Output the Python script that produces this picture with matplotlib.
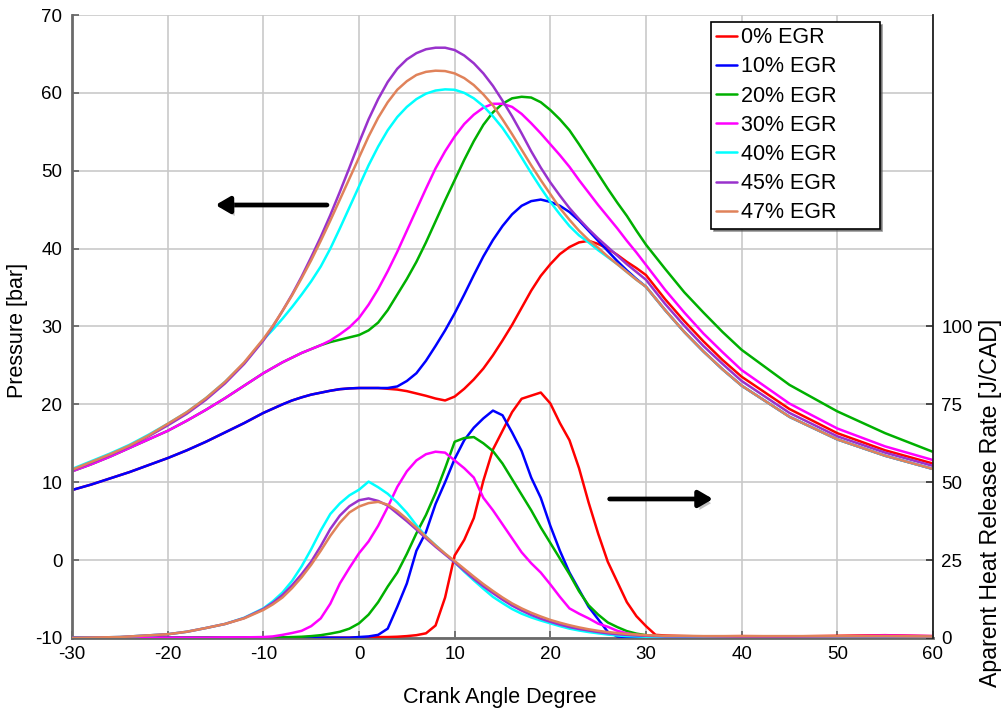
import matplotlib
matplotlib.use("Agg")
import matplotlib.pyplot as plt
from matplotlib import patheffects as pe

plt.rcParams['font.family'] = ['Liberation Sans', 'DejaVu Sans']
plt.rcParams['axes.unicode_minus'] = False

# ---------------- data ----------------
labels = ["0% EGR", "10% EGR", "20% EGR", "30% EGR", "40% EGR", "45% EGR", "47% EGR"]
colors = ["#ff0000", "#0000ff", "#00b000", "#ff00ff", "#00ffff", "#9932cc", "#e0825a"]

# crank angle grid for cylinder pressure [deg]
p_angle = [-30, -28, -26, -24, -22, -20, -18, -16, -14, -12,
           -10, -9, -8, -7, -6, -5, -4, -3, -2, -1, 0,
           1, 2, 3, 4, 5, 6, 7, 8, 9, 10, 11, 12, 13, 14, 15,
           16, 17, 18, 19, 20, 21, 22, 23, 24, 25, 26, 27, 28, 29, 30,
           32, 34, 36, 38, 40, 45, 50, 55, 60]

# cylinder pressure [bar]
p_egr0 = [9.0, 9.7, 10.5, 11.3, 12.2, 13.1, 14.1, 15.2, 16.4, 17.6,
          18.9, 19.45, 20.0, 20.5, 20.9, 21.25, 21.5, 21.75, 21.95, 22.05, 22.1,
          22.1, 22.1, 22.0, 21.9, 21.7, 21.4, 21.1, 20.75, 20.5, 21.0, 22.0, 23.2, 24.6, 26.3, 28.2,
          30.2, 32.4, 34.6, 36.5, 38.0, 39.3, 40.2, 40.8, 41.0, 40.6, 40.0, 39.2, 38.3, 37.5, 36.6,
          33.5, 30.7, 28.1, 25.7, 23.55, 19.4, 16.3, 14.1, 12.4]
p_egr10 = [9.0, 9.7, 10.5, 11.3, 12.2, 13.1, 14.1, 15.2, 16.4, 17.6,
           18.9, 19.45, 20.0, 20.5, 20.9, 21.25, 21.5, 21.75, 21.95, 22.05, 22.1,
           22.1, 22.1, 22.1, 22.3, 23.0, 24.0, 25.6, 27.5, 29.5, 31.7, 34.1, 36.6, 39.0, 41.1, 42.9,
           44.4, 45.5, 46.1, 46.3, 46.0, 45.5, 44.7, 43.6, 42.3, 41.0, 39.7, 38.4, 37.2, 36.1, 35.1,
           32.1, 29.3, 26.8, 24.5, 22.4, 18.4, 15.5, 13.4, 11.7]
p_egr20 = [11.4, 12.3, 13.3, 14.4, 15.5, 16.6, 17.9, 19.3, 20.8, 22.4,
           24.0, 24.7, 25.4, 26.0, 26.6, 27.1, 27.6, 28.0, 28.3, 28.6, 28.9,
           29.5, 30.5, 32.1, 34.1, 36.1, 38.3, 40.8, 43.5, 46.2, 48.8, 51.4, 53.8, 55.9, 57.5, 58.6,
           59.3, 59.5, 59.4, 58.8, 57.8, 56.6, 55.2, 53.4, 51.5, 49.6, 47.7, 45.9, 44.2, 42.3, 40.5,
           37.4, 34.4, 31.8, 29.3, 27.0, 22.5, 19.1, 16.3, 13.9]
p_egr30 = [11.4, 12.3, 13.3, 14.4, 15.5, 16.6, 17.9, 19.3, 20.8, 22.4,
           24.0, 24.7, 25.4, 26.0, 26.6, 27.1, 27.6, 28.2, 29.0, 29.9, 31.1,
           32.8, 34.8, 37.1, 39.6, 42.3, 45.0, 47.7, 50.3, 52.5, 54.4, 56.0, 57.2, 58.1, 58.6, 58.6,
           58.2, 57.3, 56.1, 54.8, 53.4, 52.0, 50.5, 48.8, 47.2, 45.6, 44.1, 42.6, 41.0, 39.5, 37.9,
           34.7, 31.8, 29.1, 26.7, 24.4, 20.1, 16.9, 14.6, 12.85]
p_egr40 = [11.7, 12.7, 13.7, 14.8, 16.1, 17.5, 19.0, 20.8, 22.9, 25.3,
           28.3, 29.6, 31.0, 32.5, 34.1, 35.8, 37.7, 40.0, 42.6, 45.3, 48.0,
           50.7, 53.1, 55.2, 56.9, 58.2, 59.2, 59.9, 60.3, 60.45, 60.4, 60.0, 59.3, 58.3, 57.0, 55.5,
           53.7, 51.7, 49.7, 47.8, 46.0, 44.4, 42.9, 41.7, 40.8, 39.8, 38.9, 38.0, 37.0, 36.0, 35.1,
           32.1, 29.3, 26.8, 24.5, 22.4, 18.4, 15.5, 13.4, 11.7]
p_egr45 = [11.5, 12.5, 13.5, 14.6, 15.9, 17.3, 18.8, 20.6, 22.7, 25.2,
           28.2, 30.0, 32.0, 34.1, 36.4, 38.9, 41.5, 44.3, 47.3, 50.4, 53.6,
           56.6, 59.2, 61.4, 63.1, 64.3, 65.1, 65.6, 65.8, 65.8, 65.5, 64.8, 63.8, 62.5, 60.9, 59.0,
           57.0, 54.8, 52.5, 50.4, 48.5, 46.8, 45.2, 43.8, 42.5, 41.3, 40.2, 39.1, 38.0, 37.0, 36.0,
           32.9, 30.1, 27.5, 25.2, 23.0, 18.9, 15.9, 13.8, 12.1]
p_egr47 = [11.6, 12.6, 13.6, 14.7, 16.0, 17.5, 19.0, 20.8, 22.9, 25.4,
           28.4, 30.1, 32.0, 34.0, 36.2, 38.5, 41.0, 43.6, 46.3, 49.0, 51.7,
           54.4, 56.8, 58.8, 60.4, 61.5, 62.3, 62.7, 62.85, 62.8, 62.5, 61.9, 61.0, 59.8, 58.4, 56.6,
           54.7, 52.7, 50.7, 48.8, 47.0, 45.2, 43.7, 42.3, 41.1, 40.1, 39.0, 38.0, 37.0, 36.0, 35.1,
           32.1, 29.3, 26.8, 24.5, 22.4, 18.4, 15.5, 13.4, 11.7]

# crank angle grid for apparent heat release rate [deg]
h_angle = [-30, -25, -20, -18, -16, -14, -12,
           -10, -9, -8, -7, -6, -5, -4, -3, -2, -1,
           0, 1, 2, 3, 4, 5, 6, 7, 8, 9, 10, 11, 12, 13, 14, 15, 16,
           17, 18, 19, 20, 21, 22, 23, 24, 25, 26, 27, 28, 29, 30, 31, 32,
           34, 36, 40, 45, 50, 55, 60]

# apparent heat release rate [J/CAD]
h_egr0 = [0.1, 0.1, 0.1, 0.1, 0.1, 0.1, 0.1,
          0.1, 0.1, 0.1, 0.1, 0.1, 0.1, 0.1, 0.1, 0.1, 0.1,
          0.2, 0.2, 0.3, 0.3, 0.4, 0.6, 0.9, 1.5, 4.0,
          13.0, 26.5, 31.5, 38.5, 50.5, 60.5, 66.5, 72.5,
          76.8, 77.8, 78.8, 75.3, 69.0, 63.5, 54.5, 43.5, 33.5, 24.5, 18.0, 11.5, 7.0, 3.8, 1.0, 0.8,
          0.6, 0.5, 0.6, 0.5, 0.7, 0.9, 0.6]
h_egr10 = [0.1, 0.1, 0.1, 0.1, 0.1, 0.1, 0.1,
           0.1, 0.1, 0.1, 0.1, 0.1, 0.1, 0.1, 0.1, 0.1, 0.1,
           0.3, 0.5, 1.0, 3.0, 10.0, 17.5, 28.0, 34.0, 43.0, 50.0, 57.5, 63.5, 67.5, 70.5, 73.0, 71.5, 66.0,
           60.0, 51.5, 45.0, 36.0, 28.0, 21.0, 15.5, 10.0, 6.0, 2.0, 0.5, 0.3, 0.2, 0.2, 0.2, 0.2,
           0.3, 0.3, 0.4, 0.4, 0.5, 0.4, 0.4]
h_egr20 = [0.0, 0.0, 0.1, 0.1, 0.1, 0.1, 0.1,
           0.1, 0.1, 0.2, 0.3, 0.4, 0.6, 0.9, 1.4, 2.0, 3.0,
           4.7, 7.5, 11.5, 16.5, 21.0, 27.0, 33.6, 39.5, 46.5, 54.5, 63.0, 64.2, 64.5, 62.5, 60.0, 56.0, 51.0,
           46.0, 41.0, 35.5, 30.5, 25.5, 20.5, 15.0, 10.5, 7.5, 5.0, 3.5, 2.2, 1.4, 0.9, 0.6, 0.5,
           0.4, 0.4, 0.4, 0.4, 0.5, 0.4, 0.4]
h_egr30 = [0.0, 0.1, 0.1, 0.1, 0.1, 0.2, 0.2,
           0.3, 0.5, 1.0, 1.6, 2.3, 3.8, 6.3, 11.0, 17.5, 22.5,
           27.2, 31.0, 36.0, 42.0, 48.5, 53.5, 57.0, 59.0, 59.8, 59.5, 57.0, 54.5, 51.5, 45.0, 41.0, 36.5, 32.0,
           27.5, 24.0, 21.0, 17.2, 13.2, 9.5, 7.8, 6.3, 4.6, 3.6, 2.3, 1.5, 1.0, 0.7, 0.5, 0.4,
           0.4, 0.4, 0.5, 0.5, 0.5, 0.8, 0.6]
h_egr40 = [0.0, 0.3, 1.2, 2.0, 3.2, 4.5, 6.5,
           9.5, 11.8, 14.6, 18.3, 23.0, 28.5, 34.5, 39.8, 43.2, 45.8,
           47.6, 50.2, 48.4, 46.3, 43.5, 40.2, 36.2, 32.6, 29.8, 27.0, 24.3, 21.3, 18.5, 15.8, 13.2, 11.2, 9.3,
           7.8, 6.6, 5.6, 4.7, 3.8, 3.0, 2.4, 1.9, 1.5, 1.1, 0.8, 0.6, 0.5, 0.4, 0.3, 0.3,
           0.3, 0.3, 0.3, 0.3, 0.4, 0.4, 0.4]
h_egr45 = [0.0, 0.3, 1.2, 2.0, 3.2, 4.5, 6.4,
           9.3, 11.3, 13.8, 16.9, 20.5, 24.5, 29.5, 35.0, 39.3, 42.3,
           44.2, 44.8, 44.0, 42.5, 40.0, 37.5, 34.8, 32.0, 29.3, 26.8, 24.3, 21.6, 19.0, 16.6, 14.4, 12.3, 10.4,
           8.8, 7.4, 6.2, 5.2, 4.3, 3.5, 2.9, 2.4, 1.9, 1.5, 1.2, 1.0, 0.8, 0.7, 0.6, 0.5,
           0.5, 0.5, 0.4, 0.4, 0.5, 0.5, 0.5]
h_egr47 = [0.0, 0.3, 1.2, 2.0, 3.2, 4.5, 6.3,
           9.0, 10.8, 13.0, 16.0, 19.5, 23.5, 28.0, 32.8, 37.0, 40.3,
           42.2, 43.3, 43.7, 42.8, 40.8, 38.2, 35.4, 32.5, 29.7, 27.1, 24.7, 22.2, 19.7, 17.3, 15.1, 13.0, 11.1,
           9.5, 8.1, 6.9, 5.8, 4.9, 4.1, 3.4, 2.8, 2.3, 1.9, 1.6, 1.3, 1.1, 0.9, 0.8, 0.7,
           0.7, 0.6, 0.6, 0.6, 0.6, 0.6, 0.5]

pressures = [p_egr0, p_egr10, p_egr20, p_egr30, p_egr40, p_egr45, p_egr47]
hrrs = [h_egr0, h_egr10, h_egr20, h_egr30, h_egr40, h_egr45, h_egr47]

x_ticks = [-30, -20, -10, 0, 10, 20, 30, 40, 50, 60]
p_ticks = [-10, 0, 10, 20, 30, 40, 50, 60, 70]
h_ticks = [0, 25, 50, 75, 100]

# ---------------- figure ----------------
fig = plt.figure(figsize=(10.03, 7.11), dpi=100)
ax = fig.add_axes([0.0718, 0.1027, 0.8584, 0.8762])
ax2 = ax.twinx()
ax2.set_position(ax.get_position())

lw = 1.8
handles = []
for p, c, lab in zip(pressures, colors, labels):
    ln, = ax.plot(p_angle, p, color=c, lw=lw, label=lab,
                  solid_joinstyle='round', solid_capstyle='round')
    handles.append(ln)
for h, c in zip(hrrs, colors):
    ax2.plot(h_angle, h, color=c, lw=lw, solid_joinstyle='round', solid_capstyle='round')

ax.set_xlim(-30, 60)
ax.set_ylim(-10, 70)
ax2.set_ylim(0, 200)
ax.set_xticks(x_ticks)
ax.set_yticks(p_ticks)
ax2.set_yticks(h_ticks)

ax.grid(True, color="#c9c9c9", lw=1.2)
ax.set_axisbelow(True)

tick_fs = 13.5
ax.tick_params(axis='both', direction='in', labelsize=tick_fs, length=5, width=1.2, color="#606060")
ax.tick_params(axis='y', pad=7)
ax.tick_params(axis='x', pad=6)
ax2.tick_params(axis='y', direction='in', labelsize=tick_fs, length=5, width=1.2, color="#303030", pad=6)

for a in (ax, ax2):
    a.spines['top'].set_visible(False)
ax.spines['left'].set_color("#6a6a6a")
ax.spines['left'].set_linewidth(2.0)
ax.spines['bottom'].set_color("#6a6a6a")
ax.spines['bottom'].set_linewidth(2.0)
ax.spines['right'].set_visible(False)
ax2.spines['left'].set_visible(False)
ax2.spines['bottom'].set_visible(False)
ax2.spines['right'].set_color("#202020")
ax2.spines['right'].set_linewidth(1.3)

label_fs = 15.5
ax.set_xlabel("Crank Angle Degree", fontsize=label_fs)
ax.xaxis.set_label_coords(0.497, -0.078)
ax.set_ylabel("Pressure [bar]", fontsize=label_fs)
ax.yaxis.set_label_coords(-0.051, 0.494)
ax2.set_ylabel("Aparent Heat Release Rate [J/CAD]", fontsize=16.7)
ax2.yaxis.set_label_coords(1.054, 0.217)

# direction arrows pointing to the relevant axis
shadow = [pe.SimplePatchShadow(offset=(2, -3), shadow_rgbFace="#777777", alpha=0.45), pe.Normal()]
for start, end in [((-3.35, 45.6), (-15.0, 45.6)), ((26.2, 7.85), (37.0, 7.85))]:
    ann = ax.annotate("", xy=end, xytext=start,
                      arrowprops=dict(arrowstyle="-|>,head_length=0.6,head_width=0.35",
                                      color="black", lw=3.4, shrinkA=0, shrinkB=0,
                                      mutation_scale=14))
    ann.arrow_patch.set_path_effects(shadow)

# legend box spans a fixed width, entries left-aligned
leg = ax2.legend(handles=handles, labels=labels, loc='upper left',
                 bbox_to_anchor=(0.742, 0.5, 0.196, 0.489), mode='expand',
                 fontsize=15.5, frameon=True, fancybox=False,
                 shadow={'color': '#555555', 'alpha': 0.6}, borderpad=0.25, labelspacing=0.38,
                 handlelength=0.95, handletextpad=0.2, borderaxespad=0.0)
leg.get_frame().set_edgecolor("black")
leg.get_frame().set_linewidth(1.2)

fig.savefig("out.png", dpi=100)
